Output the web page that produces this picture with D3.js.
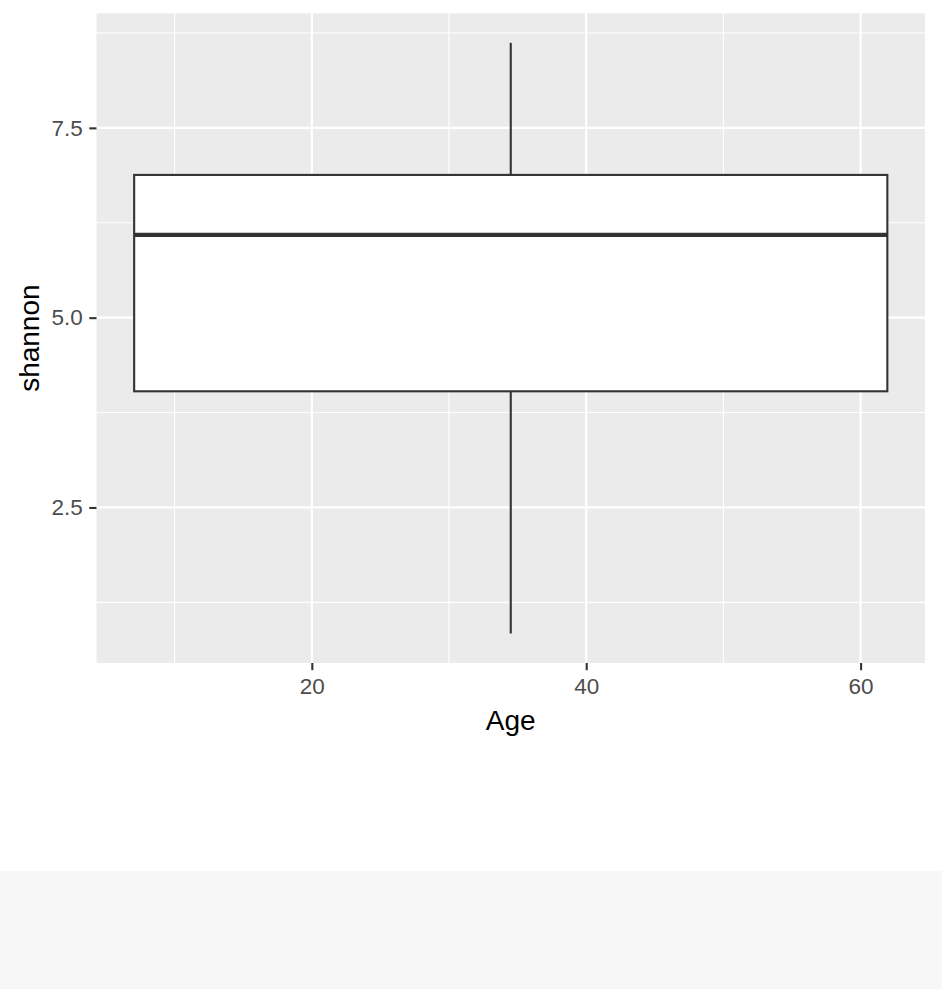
<!DOCTYPE html>
<html>
<head>
<meta charset="utf-8">
<script src="https://cdn.jsdelivr.net/npm/d3@7"></script>
<style>
  html, body { margin: 0; padding: 0; background: #ffffff; }
  svg { display: block; }
</style>
</head>
<body>
<svg id="chart" width="942" height="989"></svg>
<script>
// ---- data ----
const boxCenter = [34.5];          // Age at box centre
const boxWidth = [54.9];           // box width in Age units
const statNames = ["ymin", "lower", "middle", "upper", "ymax"];
const statValues = [0.84, 4.03, 6.09, 6.88, 8.62];
const xTicks = [20, 40, 60];
const xTickLabels = ["20", "40", "60"];
const xMinor = [10, 30, 50];
const yTicks = [2.5, 5.0, 7.5];
const yTickLabels = ["2.5", "5.0", "7.5"];
const yMinor = [1.25, 3.75, 6.25, 8.75];
const xTitle = "Age";
const yTitle = "shannon";

// ---- layout ----
const W = 942, H = 989;
const panel = { left: 96.5, right: 925, top: 13.3, bottom: 663 };
const font = "'Liberation Sans', Arial, Helvetica, sans-serif";

const svg = d3.select("#chart");

// bottom grey strip
svg.append("rect").attr("x", 0).attr("y", 871).attr("width", W).attr("height", H - 871)
  .attr("fill", "#f7f7f7");

// scales with ggplot-like 5% expansion
const stat = Object.fromEntries(statNames.map((n, i) => [n, statValues[i]]));
const xmin = boxCenter[0] - boxWidth[0] / 2, xmax = boxCenter[0] + boxWidth[0] / 2;
const xpad = (xmax - xmin) * 0.05;
const x = d3.scaleLinear().domain([xmin - xpad, xmax + xpad]).range([panel.left, panel.right]);
const ypad = (stat.ymax - stat.ymin) * 0.05;
const y = d3.scaleLinear().domain([stat.ymin - ypad, stat.ymax + ypad]).range([panel.bottom, panel.top]);

// panel background
svg.append("rect")
  .attr("x", panel.left).attr("y", panel.top)
  .attr("width", panel.right - panel.left).attr("height", panel.bottom - panel.top)
  .attr("fill", "#ebebeb");

const grid = svg.append("g");
// minor gridlines
grid.selectAll(".ym").data(yMinor).join("line")
  .attr("x1", panel.left).attr("x2", panel.right)
  .attr("y1", d => y(d)).attr("y2", d => y(d))
  .attr("stroke", "#ffffff").attr("stroke-width", 1.1);
grid.selectAll(".xm").data(xMinor).join("line")
  .attr("y1", panel.top).attr("y2", panel.bottom)
  .attr("x1", d => x(d)).attr("x2", d => x(d))
  .attr("stroke", "#ffffff").attr("stroke-width", 1.1);
// major gridlines
grid.selectAll(".yM").data(yTicks).join("line")
  .attr("x1", panel.left).attr("x2", panel.right)
  .attr("y1", d => y(d)).attr("y2", d => y(d))
  .attr("stroke", "#ffffff").attr("stroke-width", 2.2);
grid.selectAll(".xM").data(xTicks).join("line")
  .attr("y1", panel.top).attr("y2", panel.bottom)
  .attr("x1", d => x(d)).attr("x2", d => x(d))
  .attr("stroke", "#ffffff").attr("stroke-width", 2.2);

// boxplot
const boxG = svg.append("g");
const cx = x(boxCenter[0]);
const lineCol = "#333333";
// whiskers
boxG.append("line").attr("x1", cx).attr("x2", cx)
  .attr("y1", y(stat.upper)).attr("y2", y(stat.ymax))
  .attr("stroke", lineCol).attr("stroke-width", 2.1);
boxG.append("line").attr("x1", cx).attr("x2", cx)
  .attr("y1", y(stat.lower)).attr("y2", y(stat.ymin))
  .attr("stroke", lineCol).attr("stroke-width", 2.1);
// box
boxG.append("rect")
  .attr("x", x(xmin)).attr("y", y(stat.upper))
  .attr("width", x(xmax) - x(xmin)).attr("height", y(stat.lower) - y(stat.upper))
  .attr("fill", "#ffffff").attr("stroke", lineCol).attr("stroke-width", 2.1);
// median
boxG.append("line").attr("x1", x(xmin)).attr("x2", x(xmax))
  .attr("y1", y(stat.middle)).attr("y2", y(stat.middle))
  .attr("stroke", lineCol).attr("stroke-width", 4.2);

// axes
const xAxis = d3.axisBottom(x).tickValues(xTicks)
  .tickFormat((d, i) => xTickLabels[i]).tickSize(7.2).tickPadding(7.5);
const gx = svg.append("g").attr("transform", `translate(0,${panel.bottom})`).call(xAxis);
const yAxis = d3.axisLeft(y).tickValues(yTicks)
  .tickFormat((d, i) => yTickLabels[i]).tickSize(7.2).tickPadding(6.6);
const gy = svg.append("g").attr("transform", `translate(${panel.left},0)`).call(yAxis);

[gx, gy].forEach(g => {
  g.select(".domain").remove();
  g.selectAll(".tick line").attr("stroke", "#333333").attr("stroke-width", 2.1);
  g.selectAll(".tick text").attr("fill", "#4d4d4d")
    .style("font-family", font).style("font-size", "22.5px");
});

// axis titles
svg.append("text")
  .attr("x", (panel.left + panel.right) / 2).attr("y", 730)
  .attr("text-anchor", "middle")
  .style("font-family", font).style("font-size", "28px").attr("fill", "#000000")
  .text(xTitle);
svg.append("text")
  .attr("transform", `translate(38.5,${(panel.top + panel.bottom) / 2}) rotate(-90)`)
  .attr("text-anchor", "middle")
  .style("font-family", font).style("font-size", "28px").attr("fill", "#000000")
  .text(yTitle);
</script>
</body>
</html>
